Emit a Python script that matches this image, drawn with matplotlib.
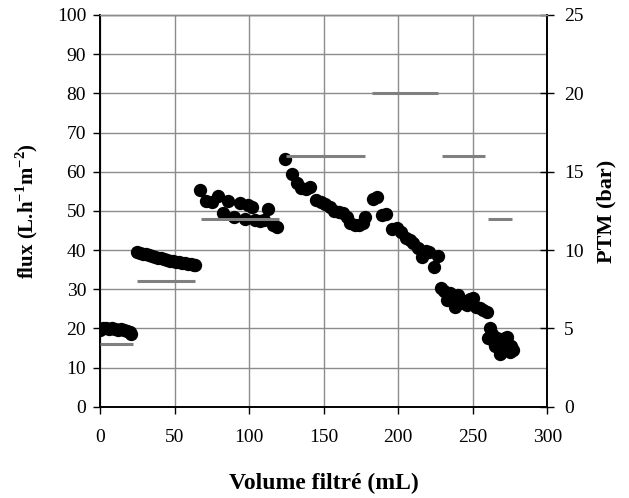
import matplotlib
matplotlib.use("Agg")
import matplotlib.pyplot as plt

plt.rcParams['font.family'] = ['Liberation Serif', 'DejaVu Serif']
plt.rcParams['mathtext.fontset'] = 'custom'
plt.rcParams['mathtext.rm'] = 'Liberation Serif'
plt.rcParams['mathtext.bf'] = 'Liberation Serif:bold'

# Permeate flux vs filtered volume
volume = [0, 2, 4, 6, 8, 10, 12, 14, 16, 18, 20, 21,
          25, 27, 29, 31, 33, 35, 37, 39, 41, 43, 45, 47, 49, 51, 53, 55, 57, 59, 61, 63, 64,
          67, 71, 75, 79, 82.5, 86, 90, 94, 97, 99, 102, 104, 107, 110, 113, 116, 119,
          124, 128.5, 132, 135, 138, 141, 145, 148, 151, 154, 157, 160, 163, 166, 168, 171, 174, 176.5, 178,
          183, 186, 189, 192, 196, 199, 202, 205, 208, 210, 213, 216, 219, 221, 224, 227,
          229, 231, 233, 235, 236, 238, 240, 242, 244, 246, 248, 250, 252, 255, 257, 259.5,
          260, 261.5, 263, 264, 265, 266, 267, 268.5, 269, 270, 271, 272, 273, 274, 275, 276, 277]
flux = [19.6, 20.1, 20.0, 19.9, 20.2, 19.9, 19.7, 19.8, 19.5, 19.3, 19.0, 18.7,
        39.6, 39.3, 39.1, 38.9, 38.7, 38.5, 38.3, 38.1, 37.9, 37.7, 37.5, 37.3, 37.2, 37.0, 36.9, 36.7, 36.6, 36.5, 36.5, 36.3, 36.2,
        55.4, 52.4, 52.3, 53.7, 49.4, 52.4, 48.5, 51.9, 47.9, 51.6, 51.0, 47.8, 47.3, 47.7, 50.6, 46.3, 46.0,
        63.2, 59.4, 57.0, 55.8, 55.6, 56.2, 52.8, 52.3, 51.8, 51.1, 50.0, 49.6, 49.4, 48.4, 46.8, 46.5, 46.4, 46.8, 48.5,
        53.0, 53.6, 49.0, 49.2, 45.5, 45.6, 44.5, 43.0, 42.5, 41.8, 40.5, 38.3, 39.8, 39.5, 35.6, 38.5,
        30.3, 29.5, 27.3, 29.0, 27.0, 25.6, 28.5, 26.5, 26.9, 26.0, 27.5, 27.7, 25.5, 25.2, 24.8, 24.3,
        17.5, 20.1, 18.5, 16.5, 15.5, 17.5, 15.4, 13.5, 17.0, 16.0, 15.0, 17.5, 17.9, 16.0, 14.1, 15.5, 14.5]

# Transmembrane pressure steps
ptm_start = [0, 25, 67.5, 125, 182.5, 229.5, 260]
ptm_end = [22, 64, 120, 178, 227, 258.5, 276.5]
ptm_bar = [4, 8, 12, 16, 20, 16, 12]

fig = plt.figure(figsize=(6.29, 4.98), dpi=100)
ax = fig.add_axes([0.159, 0.183, 0.711, 0.787])
ax2 = ax.twinx()

ax.set_xlim(0, 300)
ax.set_ylim(0, 100)
ax.set_xticks(range(0, 301, 50))
ax.set_yticks(range(0, 101, 10))
ax.grid(True, color='#8c8c8c', linewidth=1.0)
ax.set_axisbelow(True)

ax.scatter(volume, flux, s=92, color='black', zorder=3, linewidths=0)

ax2.set_ylim(0, 25)
ax2.set_yticks(range(0, 26, 5))
ax2.hlines(ptm_bar, ptm_start, ptm_end, colors='#808080', linewidth=2.2, zorder=4)

for a in (ax, ax2):
    for side in ('left', 'right', 'bottom'):
        a.spines[side].set_color('black')
        a.spines[side].set_linewidth(1.2)
    a.spines['top'].set_color('#8c8c8c')
    a.spines['top'].set_linewidth(1.0)

ax.tick_params(axis='both', labelsize=14, direction='out', length=5, width=1, colors='black')
ax.tick_params(axis='y', pad=5)
ax.tick_params(axis='x', pad=11)
ax2.tick_params(axis='y', labelsize=14, direction='inout', length=10, width=1, pad=7)

ax.set_xlabel('Volume filtré (mL)', fontsize=17, fontweight='bold', labelpad=19)
ax.set_ylabel(r'flux (L.h$^{\mathbf{-1}}$m$^{\mathbf{-2}}$)', fontsize=15, fontweight='bold', labelpad=12)
ax2.set_ylabel('PTM (bar)', fontsize=16, fontweight='bold', labelpad=9)

fig.savefig('out.png', dpi=100)
